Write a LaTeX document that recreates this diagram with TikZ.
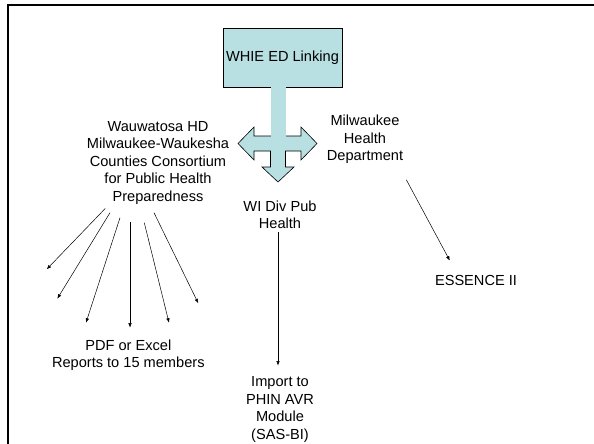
\documentclass[tikz,border=0pt]{standalone}
\usepackage{fontspec}
\setmainfont{Liberation Sans}
\usetikzlibrary{arrows.meta}
\definecolor{linkblue}{HTML}{B8DFE1}
\tikzset{
  lbl/.style={align=center,font=\fontsize{14.6}{17.5}\selectfont,inner sep=3pt},
  arr/.style={-{Latex[length=4.5pt,width=3.5pt]},line width=0.5pt},
}

\begin{document}
\begin{tikzpicture}[x=1pt,y=-1pt]
\useasboundingbox (0,0) rectangle (594,444);
\draw[line width=2pt] (7.5,444) -- (7.5,5) -- (594,5);

%box and cross arrow
\node[lbl,draw,fill=linkblue,minimum width=119pt,minimum height=59pt,inner sep=0pt] (whie) at (282.5,57.5) {WHIE ED Linking};
\draw[fill=linkblue,line width=.6pt] (254,136) -- (254,127) -- (238,143.5) -- (254,160) -- (254,151) -- (270.5,151) -- (270.5,167) -- (262,167) -- (278,182) -- (294,167) -- (285.5,167) -- (285.5,151) -- (301,151) -- (301,160) -- (317,143.5) -- (301,127) -- (301,136) -- cycle;
\fill[linkblue] ([xshift=-12pt]whie.south) rectangle (285.5,136.5);

%labels
\node[lbl] (cons) at (158,162.5) {Wauwatosa HD\\Milwaukee-Waukesha\\Counties Consortium\\for Public Health\\Preparedness};
\node[lbl] (milw) at (365,139.3) {Milwaukee\\Health\\Department};
\node[lbl] (wi) at (280,215) {WI Div Pub\\Health};
\node[lbl] (ess) at (476,280) {ESSENCE II};
\node[lbl] (imp) at (280,409.5) {Import to\\PHIN AVR\\Module\\(SAS-BI)};
\node[lbl] (pdf) at (128.3,355) {PDF or Excel\\Reports to 15 members};

%fan ends
\coordinate (e1) at (46.7,269.3);
\coordinate (e2) at (57.3,298.7);
\coordinate (e3) at (86,322.7);
\coordinate (e4) at (130,327.7);
\coordinate (e5) at (169,322.7);
\coordinate (e6) at (198.3,303.3);

%arrows
\draw[arr] ([shift={(-52.7,1.2)}]cons.south) -- (e1);
\draw[arr] ([shift={(-48,5.5)}]cons.south) -- (e2);
\draw[arr] ([shift={(-38,10.5)}]cons.south) -- (e3);
\draw[arr] ([shift={(-28,14.5)}]cons.south) -- (e4);
\draw[arr] ([shift={(-13.7,15.5)}]cons.south) -- (e5);
\draw[arr] ([shift={(-4,5.5)}]cons.south) -- (e6);
\draw[arr,shorten >=8pt] ([xshift=-2pt]wi.south) -- ([xshift=-2pt]imp.north);
\draw[arr] ([shift={(0,13)}]milw.south east) -- ([shift={(18,-11)}]ess.north west);

\end{tikzpicture}
\end{document}
